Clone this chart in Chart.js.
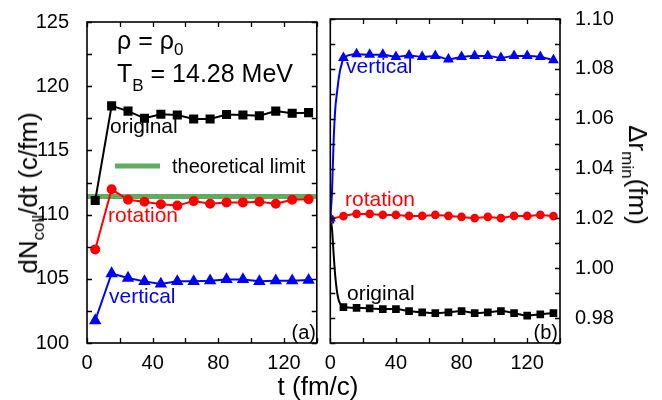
<!DOCTYPE html>
<html><head><meta charset="utf-8">
<script src="https://cdn.jsdelivr.net/npm/chart.js@4.4.0/dist/chart.umd.min.js"></script>
<style>
html,body{margin:0;padding:0;background:#fff;}
#wrap{position:relative;width:662px;height:400px;overflow:hidden;font-family:"Liberation Sans",Arial,sans-serif;}
canvas{position:absolute;top:0;}
#c1{left:0;width:324px;height:400px;}
#c2{left:324px;width:338px;height:400px;}
.t{position:absolute;white-space:nowrap;color:#000;font-size:26px;line-height:1;}
.sb{font-size:17px;position:relative;}
</style></head><body>
<div id="wrap">
<canvas id="c1" width="324" height="400"></canvas>
<canvas id="c2" width="338" height="400"></canvas>
<div class="t" id="xt" style="left:318px;top:386px;transform:translate(-50%,-50%);">t (fm/c)</div>
<div class="t" id="ylt" style="left:28px;top:193px;transform:translate(-50%,-50%) rotate(-90deg);">dN<span class="sb" style="top:7px">coll</span>/dt (c/fm)</div>
<div class="t" id="yrt" style="left:638px;top:175px;transform:translate(-50%,-50%) rotate(90deg);">Δr<span class="sb" style="top:7px">min</span>(fm)</div>
</div>
<script>
// ---- Left panel (a): dN_coll/dt vs t ----
const tLeft    = [5,15,25,35,45,55,65,75,85,95,105,115,125,135];
const origLeft = [111.1,118.47,118.06,117.5,117.81,117.76,117.45,117.45,117.8,117.76,117.7,118.06,117.9,117.94];
const rotLeft  = [107.29,111.97,111.15,111.0,110.8,110.7,111.05,110.85,110.95,110.95,111.0,110.85,111.15,111.2];
const vertLeft = [101.75,105.41,105.06,104.8,104.6,104.8,104.8,104.85,104.95,104.95,104.8,104.85,104.85,104.9];
const limitT   = [0,140];
const limitVal = [111.41,111.41];
const xTicksL  = [0,40,80,120];
const yTicksL  = [100,105,110,115,120,125];

// ---- Right panel (b): Δr_min vs t ----
const markT     = [0,8,16,24,32,40,48,56,64,72,80,88,96,104,112,120,128,136];
const origRT    = [0,1,2,3,4,5,6,7,8,16,24,32,40,48,56,64,72,80,88,96,104,112,120,128,136];
const origRight = [1.0195,1.016,1.006,0.997,0.991,0.9875,0.9858,0.985,0.9844,0.9841,0.9839,0.9836,0.9836,0.9828,0.9823,0.9820,0.9823,0.9828,0.9820,0.9823,0.9828,0.9820,0.9810,0.9815,0.9820];
const rotRT     = [0,8,16,24,32,40,48,56,64,72,80,88,96,104,112,120,128,136];
const rotRight  = [1.0198,1.0209,1.0218,1.0218,1.0214,1.0214,1.0210,1.0210,1.0214,1.0210,1.0206,1.0201,1.0206,1.0201,1.0210,1.0210,1.0214,1.0209];
const vertRT    = [0,1,2,3,4,5,6,7,8,16,24,32,40,48,56,64,72,80,88,96,104,112,120,128,136];
const vertRight = [1.0200,1.030,1.0505,1.0637,1.070,1.0755,1.0795,1.082,1.0844,1.0859,1.0857,1.0857,1.0848,1.0854,1.0848,1.0852,1.0838,1.0848,1.0852,1.0852,1.0844,1.0852,1.0852,1.0848,1.0835];
const xTicksR = [0,40,80,120];
const yTicksR = ['0.98','1.00','1.02','1.04','1.06','1.08','1.10'];

const FONT = '"Liberation Sans", Arial, sans-serif';
Chart.defaults.font.family = FONT;
Chart.defaults.color = '#000';

const pts = (xs, ys) => xs.map((x, i) => ({x, y: ys[i]}));

const framePlugin = {
  id: 'frame',
  afterDraw(chart) {
    const {ctx, chartArea: a, scales} = chart;
    const L = 5;
    ctx.save();
    ctx.strokeStyle = '#000';
    ctx.lineWidth = 1.3;
    ctx.beginPath();
    scales.x.ticks.forEach(t => {
      const p = Math.round(scales.x.getPixelForValue(t.value)) + 0.5;
      ctx.moveTo(p, a.bottom); ctx.lineTo(p, a.bottom - L);
      ctx.moveTo(p, a.top); ctx.lineTo(p, a.top + L);
    });
    scales.y.ticks.forEach(t => {
      const p = Math.round(scales.y.getPixelForValue(t.value)) + 0.5;
      ctx.moveTo(a.left, p); ctx.lineTo(a.left + L, p);
      ctx.moveTo(a.right, p); ctx.lineTo(a.right - L, p);
    });
    ctx.stroke();
    ctx.lineWidth = 1.6;
    ctx.strokeRect(a.left, a.top, a.right - a.left, a.bottom - a.top);
    ctx.restore();
  }
};

const notesPlugin = {
  id: 'notes',
  afterDraw(chart, args, opts) {
    const ctx = chart.ctx;
    ctx.save();
    ctx.textBaseline = 'alphabetic';
    ctx.textAlign = 'left';
    (opts.items || []).forEach(it => {
      let x = it.x;
      if (it.align === 'right') {
        ctx.font = it.size + 'px ' + FONT;
        x = it.x - ctx.measureText(it.segs.map(s => s.t).join('')).width;
      }
      it.segs.forEach(s => {
        const sz = s.sub ? it.subSize : it.size;
        ctx.font = sz + 'px ' + FONT;
        ctx.fillStyle = it.color;
        ctx.fillText(s.t, x, it.y + (s.sub ? it.subDy : 0));
        x += ctx.measureText(s.t).width;
      });
    });
    if (opts.legendLine) {
      const l = opts.legendLine;
      ctx.strokeStyle = l.color; ctx.lineWidth = l.width;
      ctx.beginPath(); ctx.moveTo(l.x1, l.y); ctx.lineTo(l.x2, l.y); ctx.stroke();
    }
    ctx.restore();
  }
};

const tickFont = {size: 20, family: FONT};

function xScale(labels) {
  return {
    type: 'linear', min: 0, max: 140,
    grid: {display: false}, border: {display: false},
    ticks: {stepSize: 20, autoSkip: false, maxRotation: 0, font: tickFont, color: '#000', padding: 0,
      callback: v => labels.includes(v) ? String(v) : ''},
    afterFit: s => { s.height = 57; }
  };
}

// Left chart
new Chart(document.getElementById('c1'), {
  type: 'line',
  data: {
    datasets: [
      {data: pts(tLeft, origLeft), borderColor: '#000', backgroundColor: '#000', borderWidth: 2,
       pointStyle: 'rect', pointRadius: 5, tension: 0},
      {data: pts(tLeft, rotLeft), borderColor: '#ff0000', backgroundColor: '#ff0000', borderWidth: 2,
       pointStyle: 'circle', pointRadius: 4, tension: 0},
      {data: pts(tLeft, vertLeft), borderColor: '#0000ff', backgroundColor: '#0000ff', borderWidth: 2,
       pointStyle: 'triangle', pointRadius: 5.2, tension: 0},
      {data: pts(limitT, limitVal), borderColor: '#5fae5f', borderWidth: 5, pointRadius: 0, tension: 0}
    ]
  },
  options: {
    responsive: false, animation: false, events: [],
    layout: {padding: {top: 15, right: 6, left: 0, bottom: 0}},
    plugins: {legend: {display: false}, tooltip: {enabled: false},
      notes: {
        items: [
          {x: 117, y: 49, size: 25, subSize: 17, subDy: 6, color: '#000', segs: [{t: 'ρ = ρ'}, {t: '0', sub: true}]},
          {x: 117, y: 82, size: 25, subSize: 17, subDy: 9, color: '#000', segs: [{t: 'T'}, {t: 'B', sub: true}, {t: ' = 14.28 MeV'}]},
          {x: 110, y: 133, size: 21, color: '#000', segs: [{t: 'original'}]},
          {x: 172, y: 173, size: 20, color: '#000', segs: [{t: 'theoretical limit'}]},
          {x: 108, y: 222, size: 21, color: '#ff0000', segs: [{t: 'rotation'}]},
          {x: 109, y: 303, size: 21, color: '#0000ff', segs: [{t: 'vertical'}]},
          {x: 316, y: 339, size: 20, color: '#000', align: 'right', segs: [{t: '(a)'}]}
        ],
        legendLine: {x1: 115, x2: 160, y: 166, color: '#5fae5f', width: 5}
      }
    },
    scales: {
      x: xScale(xTicksL),
      y: {
        type: 'linear', min: 100, max: 125,
        grid: {display: false}, border: {display: false},
        ticks: {stepSize: 2.5, autoSkip: false, font: tickFont, color: '#000', padding: 10,
          callback: v => yTicksL.includes(v) ? String(v) : ''},
        afterFit: s => { s.width = 87; }
      }
    }
  },
  plugins: [framePlugin, notesPlugin]
});

// Right chart
const markR = r => ctx => (markT.includes(ctx.raw.x) ? r : 0);
new Chart(document.getElementById('c2'), {
  type: 'line',
  data: {
    datasets: [
      {data: pts(vertRT, vertRight), borderColor: '#0000ff', backgroundColor: '#0000ff', borderWidth: 2,
       pointStyle: 'triangle', pointRadius: markR(4.3), cubicInterpolationMode: 'monotone'},
      {data: pts(rotRT, rotRight), borderColor: '#ff0000', backgroundColor: '#ff0000', borderWidth: 2,
       pointStyle: 'circle', pointRadius: markR(3.3), cubicInterpolationMode: 'monotone'},
      {data: pts(origRT, origRight), borderColor: '#000', backgroundColor: '#000', borderWidth: 2,
       pointStyle: 'rect', pointRadius: markR(4), cubicInterpolationMode: 'monotone'}
    ]
  },
  options: {
    responsive: false, animation: false, events: [],
    layout: {padding: {top: 15, right: 0, left: 5, bottom: 0}},
    plugins: {legend: {display: false}, tooltip: {enabled: false},
      notes: {
        items: [
          {x: 346 - 324, y: 73, size: 21, color: '#0000ff', segs: [{t: 'vertical'}]},
          {x: 345 - 324, y: 206, size: 21, color: '#ff0000', segs: [{t: 'rotation'}]},
          {x: 347 - 324, y: 300, size: 21, color: '#000', segs: [{t: 'original'}]},
          {x: 558 - 324, y: 339, size: 20, color: '#000', align: 'right', segs: [{t: '(b)'}]}
        ]
      }
    },
    scales: {
      x: xScale(xTicksR),
      y: {
        type: 'linear', position: 'right', min: 0.97, max: 1.10,
        grid: {display: false}, border: {display: false},
        ticks: {stepSize: 0.01, autoSkip: false, font: tickFont, color: '#000', padding: 7,
          callback: v => { const s = Number(v).toFixed(2); return yTicksR.includes(s) ? s : ''; }},
        afterFit: s => { s.width = 102; }
      }
    }
  },
  plugins: [framePlugin, notesPlugin]
});
</script>
</body></html>
